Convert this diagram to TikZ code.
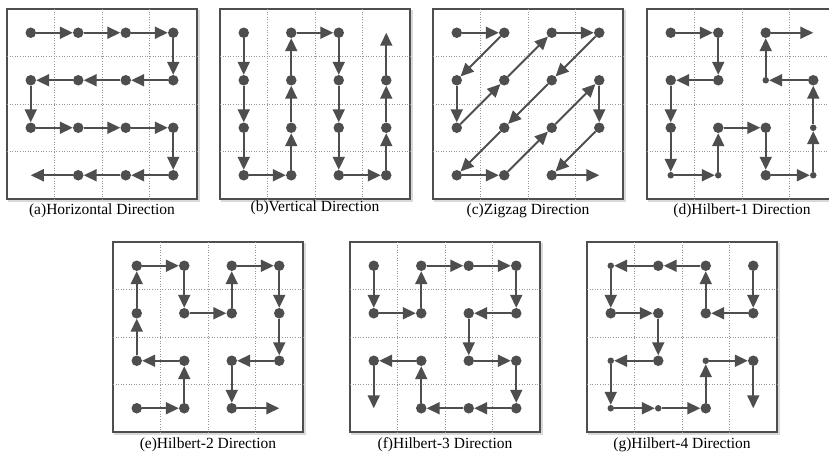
\documentclass[tikz,border=0pt]{standalone}
\usepackage{fontspec}
\setmainfont{Liberation Serif}
\usetikzlibrary{arrows.meta}
\definecolor{ink}{RGB}{78,78,78}
\definecolor{gridgray}{RGB}{150,150,150}

\begin{document}
\begin{tikzpicture}[
  x=1pt,y=-1pt,
  font=\fontsize{15.5}{18}\selectfont,
  frame/.style={draw=ink,line width=2.6pt,fill=white},
  frameshadow/.style={draw=black!15,line width=2.6pt},
  gridline/.style={draw=gridgray,dotted,line width=0.6pt},
  dot/.style={circle,fill=ink,inner sep=0pt,minimum size=10.5pt},
  sdot/.style={circle,fill=ink,inner sep=0pt,minimum size=6.5pt},
  endpt/.style={coordinate},
  arr/.style={draw=ink,line width=1.8pt,-{Triangle[length=13pt,width=12pt]}},
  captext/.style={text=black}
]
\useasboundingbox (0,0) rectangle (829,452);

% (a) horizontal
\begin{scope}[shift={(7,9)}]
  \draw[frameshadow] (2,2) rectangle (192,192);
  \draw[frame] (0,0) rectangle (190,190);
  \foreach \g in {47.5,95,142.5} {\draw[gridline] (\g,0) -- (\g,190); \draw[gridline] (0,\g) -- (190,\g);}
  \foreach \c/\r/\s [count=\k] in {0/0/dot,1/0/dot,2/0/dot,3/0/dot,3/1/dot,2/1/dot,1/1/dot,0/1/dot,
      0/2/dot,1/2/dot,2/2/dot,3/2/dot,3/3/dot,2/3/dot,1/3/dot,0/3/endpt}
    \node[\s] (a\k) at ({\c*47.5+23.75},{\r*47.5+23.75}) {};
  \foreach \k [evaluate=\k as \m using int(\k+1)] in {1,...,15} \draw[arr] (a\k) -- (a\m);
  \node[captext] (capa) at (95,202) {(a)Horizontal Direction};
\end{scope}

% (b) vertical
\begin{scope}[shift={(220,9)}]
  \draw[frameshadow] (2,2) rectangle (192,192);
  \draw[frame] (0,0) rectangle (190,190);
  \foreach \g in {47.5,95,142.5} {\draw[gridline] (\g,0) -- (\g,190); \draw[gridline] (0,\g) -- (190,\g);}
  \foreach \c/\r/\s [count=\k] in {0/0/dot,0/1/dot,0/2/dot,0/3/dot,1/3/dot,1/2/dot,1/1/dot,1/0/dot,
      2/0/dot,2/1/dot,2/2/dot,2/3/dot,3/3/dot,3/2/dot,3/1/dot,3/0/endpt}
    \node[\s] (b\k) at ({\c*47.5+23.75},{\r*47.5+23.75}) {};
  \foreach \k [evaluate=\k as \m using int(\k+1)] in {1,...,15} \draw[arr] (b\k) -- (b\m);
  \node[captext] (capb) at (95,199) {(b)Vertical Direction};
\end{scope}

% (c) zigzag
\begin{scope}[shift={(433,9)}]
  \draw[frameshadow] (2,2) rectangle (192,192);
  \draw[frame] (0,0) rectangle (190,190);
  \foreach \g in {47.5,95,142.5} {\draw[gridline] (\g,0) -- (\g,190); \draw[gridline] (0,\g) -- (190,\g);}
  \foreach \c/\r/\s [count=\k] in {0/0/dot,1/0/dot,0/1/dot,0/2/dot,1/1/dot,2/0/dot,3/0/dot,2/1/dot,
      1/2/dot,0/3/dot,1/3/dot,2/2/dot,3/1/dot,3/2/dot,2/3/dot,3/3/endpt}
    \node[\s] (c\k) at ({\c*47.5+23.75},{\r*47.5+23.75}) {};
  \foreach \k [evaluate=\k as \m using int(\k+1)] in {1,...,15} \draw[arr] (c\k) -- (c\m);
  \node[captext] (capc) at (95,202) {(c)Zigzag Direction};
\end{scope}

% (d) hilbert-1
\begin{scope}[shift={(647,9)}]
  \draw[frameshadow] (2,2) rectangle (192,192);
  \draw[frame] (0,0) rectangle (190,190);
  \foreach \g in {47.5,95,142.5} {\draw[gridline] (\g,0) -- (\g,190); \draw[gridline] (0,\g) -- (190,\g);}
  \foreach \c/\r/\s [count=\k] in {0/0/dot,1/0/dot,1/1/dot,0/1/dot,0/2/dot,0/3/sdot,1/3/sdot,1/2/dot,
      2/2/dot,2/3/dot,3/3/sdot,3/2/sdot,3/1/dot,2/1/sdot,2/0/dot,3/0/endpt}
    \node[\s] (d\k) at ({\c*47.5+23.75},{\r*47.5+23.75}) {};
  \foreach \k [evaluate=\k as \m using int(\k+1)] in {1,...,15} \draw[arr] (d\k) -- (d\m);
  \node[captext] (capd) at (95,202) {(d)Hilbert-1 Direction};
\end{scope}

% (e) hilbert-2
\begin{scope}[shift={(113,242)}]
  \draw[frameshadow] (2,2) rectangle (192,192);
  \draw[frame] (0,0) rectangle (190,190);
  \foreach \g in {47.5,95,142.5} {\draw[gridline] (\g,0) -- (\g,190); \draw[gridline] (0,\g) -- (190,\g);}
  \foreach \c/\r/\s [count=\k] in {0/3/dot,1/3/dot,1/2/dot,0/2/dot,0/1/dot,0/0/dot,1/0/dot,1/1/dot,
      2/1/dot,2/0/dot,3/0/dot,3/1/dot,3/2/dot,2/2/dot,2/3/dot,3/3/endpt}
    \node[\s] (e\k) at ({\c*47.5+23.75},{\r*47.5+23.75}) {};
  \foreach \k [evaluate=\k as \m using int(\k+1)] in {1,...,15} \draw[arr] (e\k) -- (e\m);
  \node[captext] (cape) at (95,203) {(e)Hilbert-2 Direction};
\end{scope}

% (f) hilbert-3
\begin{scope}[shift={(350,242)}]
  \draw[frameshadow] (2,2) rectangle (192,192);
  \draw[frame] (0,0) rectangle (190,190);
  \foreach \g in {47.5,95,142.5} {\draw[gridline] (\g,0) -- (\g,190); \draw[gridline] (0,\g) -- (190,\g);}
  \foreach \c/\r/\s [count=\k] in {0/0/dot,0/1/dot,1/1/dot,1/0/dot,2/0/dot,3/0/dot,3/1/dot,2/1/dot,
      2/2/dot,3/2/dot,3/3/dot,2/3/dot,1/3/dot,1/2/dot,0/2/dot,0/3/endpt}
    \node[\s] (f\k) at ({\c*47.5+23.75},{\r*47.5+23.75}) {};
  \foreach \k [evaluate=\k as \m using int(\k+1)] in {1,...,15} \draw[arr] (f\k) -- (f\m);
  \node[captext] (capf) at (95,203) {(f)Hilbert-3 Direction};
\end{scope}

% (g) hilbert-4
\begin{scope}[shift={(587,242)}]
  \draw[frameshadow] (2,2) rectangle (192,192);
  \draw[frame] (0,0) rectangle (190,190);
  \foreach \g in {47.5,95,142.5} {\draw[gridline] (\g,0) -- (\g,190); \draw[gridline] (0,\g) -- (190,\g);}
  \foreach \c/\r/\s [count=\k] in {3/0/dot,3/1/dot,2/1/dot,2/0/dot,1/0/dot,0/0/sdot,0/1/dot,1/1/dot,
      1/2/dot,0/2/sdot,0/3/sdot,1/3/sdot,2/3/dot,2/2/sdot,3/2/dot,3/3/endpt}
    \node[\s] (g\k) at ({\c*47.5+23.75},{\r*47.5+23.75}) {};
  \foreach \k [evaluate=\k as \m using int(\k+1)] in {1,...,15} \draw[arr] (g\k) -- (g\m);
  \node[captext] (capg) at (95,203) {(g)Hilbert-4 Direction};
\end{scope}
\end{tikzpicture}
\end{document}
